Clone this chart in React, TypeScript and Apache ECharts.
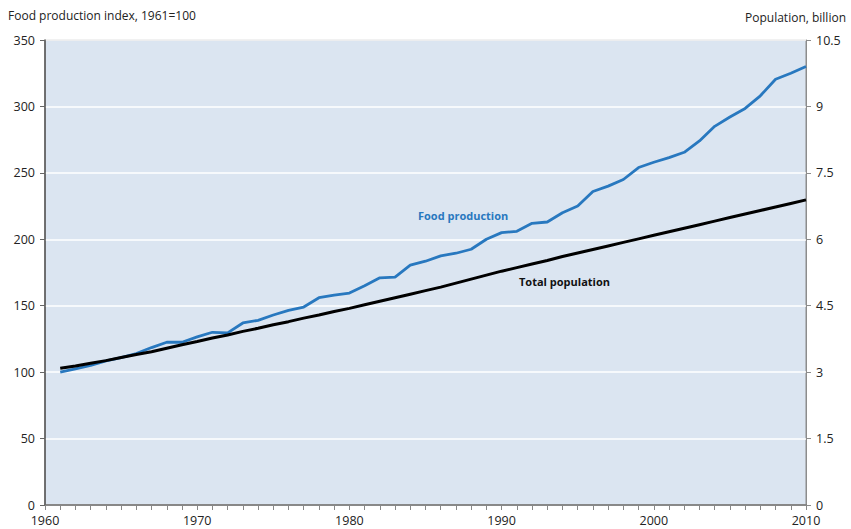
import React, { useEffect, useRef } from "react";
import * as echarts from "echarts";

const years: number[] = [
  1961, 1962, 1963, 1964, 1965, 1966, 1967, 1968, 1969, 1970,
  1971, 1972, 1973, 1974, 1975, 1976, 1977, 1978, 1979, 1980,
  1981, 1982, 1983, 1984, 1985, 1986, 1987, 1988, 1989, 1990,
  1991, 1992, 1993, 1994, 1995, 1996, 1997, 1998, 1999, 2000,
  2001, 2002, 2003, 2004, 2005, 2006, 2007, 2008, 2009, 2010,
];

const foodIndex: number[] = [
  100, 102.5, 105, 108.5, 111, 114, 118.5, 122.5, 122.5, 126.5,
  130, 129.5, 137, 139, 143, 146.5, 149, 156, 158, 159.5,
  165, 171, 171.5, 180.5, 183.5, 187.5, 189.5, 192.5, 200, 205,
  206, 212, 213, 220, 225, 236, 240, 245, 254, 258,
  261.5, 265.5, 274, 285, 292, 298.5, 308, 320.5, 325, 330,
];

const populationBn: number[] = [
  3.09, 3.14, 3.2, 3.26, 3.33, 3.4, 3.46, 3.54, 3.62, 3.69,
  3.77, 3.84, 3.92, 3.99, 4.07, 4.14, 4.22, 4.29, 4.37, 4.44,
  4.52, 4.6, 4.68, 4.76, 4.84, 4.92, 5.01, 5.1, 5.19, 5.28,
  5.36, 5.44, 5.52, 5.61, 5.69, 5.77, 5.85, 5.93, 6.01, 6.09,
  6.17, 6.25, 6.33, 6.41, 6.49, 6.57, 6.65, 6.73, 6.81, 6.89,
];

const leftTitle = "Food production index, 1961=100";
const rightTitle = "Population, billion";
const foodLabel = "Food production";
const popLabel = "Total population";

const FONT = "'Open Sans', 'Noto Sans', sans-serif";

export default function App() {
  const ref = useRef<HTMLDivElement>(null);
  useEffect(() => {
    document.body.style.margin = "0";
    if (!ref.current) return;
    const chart = echarts.init(ref.current, undefined, { renderer: "svg" });
    const option: any = {
      animation: false,
      backgroundColor: "#ffffff",
      textStyle: { fontFamily: FONT },
      grid: {
        left: 45,
        right: 45,
        top: 40,
        bottom: 24,
        show: true,
        backgroundColor: "#dbe5f1",
        borderColor: "#8c8c8c",
        borderWidth: 1,
      },
      xAxis: {
        type: "value",
        min: 1960,
        max: 2010,
        interval: 10,
        axisLine: { show: true, onZero: false, lineStyle: { color: "#666", width: 1.5 } },
        axisTick: { show: true, inside: false, length: 5, lineStyle: { color: "#888" } },
        minorTick: { show: true, splitNumber: 10, length: 5, lineStyle: { color: "#888" } },
        splitLine: { show: false },
        axisLabel: {
          color: "#222",
          fontSize: 12.5,
          margin: 9,
          fontFamily: FONT,
          formatter: (v: number) => String(v),
        },
      },
      yAxis: [
        {
          type: "value",
          min: 0,
          max: 350,
          interval: 50,
          position: "left",
          axisLine: { show: true, lineStyle: { color: "#555", width: 1.5 } },
          axisTick: { show: true, inside: false, length: 5, lineStyle: { color: "#666" } },
          splitLine: { show: true, lineStyle: { color: "#ffffff", width: 1.5 } },
          axisLabel: { color: "#222", fontSize: 12.5, margin: 10, fontFamily: FONT },
        },
        {
          type: "value",
          min: 0,
          max: 10.5,
          interval: 1.5,
          position: "right",
          axisLine: { show: true, lineStyle: { color: "#8c8c8c", width: 1 } },
          axisTick: { show: true, inside: false, length: 5, lineStyle: { color: "#8c8c8c" } },
          splitLine: { show: false },
          axisLabel: { color: "#222", fontSize: 12.5, margin: 10, fontFamily: FONT },
        },
      ],
      series: [
        {
          name: "Food production",
          type: "line",
          yAxisIndex: 0,
          symbol: "none",
          lineStyle: { color: "#2878bf", width: 2.8 },
          data: years.map((y, i) => [y, foodIndex[i]]),
        },
        {
          name: "Total population",
          type: "line",
          yAxisIndex: 1,
          symbol: "none",
          lineStyle: { color: "#000000", width: 3 },
          data: years.map((y, i) => [y, populationBn[i]]),
        },
      ],
      graphic: [
        {
          type: "text",
          left: 8,
          top: 9,
          style: { text: leftTitle, fill: "#222", font: `12px ${FONT}` },
        },
        {
          type: "text",
          right: 5,
          top: 11,
          style: { text: rightTitle, fill: "#222", font: `12px ${FONT}` },
        },
        {
          type: "text",
          left: 418,
          top: 210,
          style: { text: foodLabel, fill: "#2878bf", font: `bold 11px ${FONT}` },
        },
        {
          type: "text",
          left: 519,
          top: 276,
          style: { text: popLabel, fill: "#111", font: `bold 11px ${FONT}` },
        },
      ],
    };
    chart.setOption(option);
    return () => chart.dispose();
  }, []);
  return <div ref={ref} style={{ width: 851, height: 529 }} />;
}
